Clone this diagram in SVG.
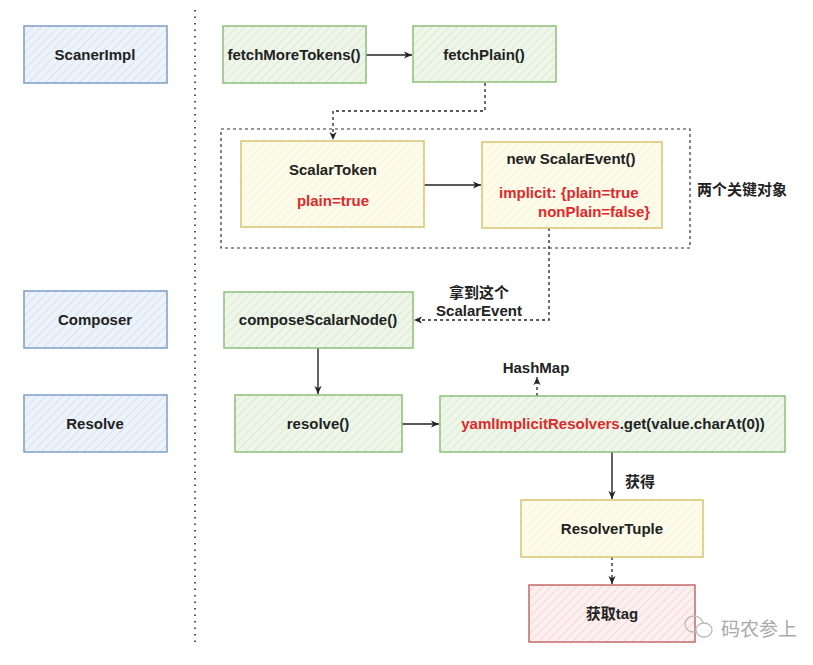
<svg xmlns="http://www.w3.org/2000/svg" width="813" height="665" viewBox="0 0 813 665">
<defs>
<pattern id="hb" width="6" height="6" patternUnits="userSpaceOnUse" patternTransform="rotate(45)"><rect width="6" height="6" fill="#edf3fb"/><line x1="0" y1="0" x2="0" y2="6" stroke="#c9d7ea" stroke-width="1.2"/></pattern>
<pattern id="hg" width="6" height="6" patternUnits="userSpaceOnUse" patternTransform="rotate(45)"><rect width="6" height="6" fill="#eef6ea"/><line x1="0" y1="0" x2="0" y2="6" stroke="#cde2c3" stroke-width="1.2"/></pattern>
<pattern id="hy" width="6" height="6" patternUnits="userSpaceOnUse" patternTransform="rotate(45)"><rect width="6" height="6" fill="#fdfbea"/><line x1="0" y1="0" x2="0" y2="6" stroke="#f6efd2" stroke-width="1.2"/></pattern>
<pattern id="hr" width="6" height="6" patternUnits="userSpaceOnUse" patternTransform="rotate(45)"><rect width="6" height="6" fill="#fbefef"/><line x1="0" y1="0" x2="0" y2="6" stroke="#efc9c9" stroke-width="1.2"/></pattern>
<marker id="ah" viewBox="0 0 10 10" refX="9" refY="5" markerWidth="9" markerHeight="9" markerUnits="userSpaceOnUse" orient="auto"><path d="M0,1 L9,5 L0,9 L2.5,5 z" fill="#222"/></marker>
</defs>
<style>
.blue{fill:url(#hb);stroke:#7d9cc8;stroke-width:1.5}
.green{fill:url(#hg);stroke:#8fbf7a;stroke-width:1.5}
.yellow{fill:url(#hy);stroke:#d8c46e;stroke-width:1.5}
.red{fill:url(#hr);stroke:#c46a6a;stroke-width:1.5}
text{font-family:"Liberation Sans","Noto Sans CJK SC",sans-serif;font-size:15px;font-weight:bold;fill:#222}
.c{text-anchor:middle}
.rd{fill:#e0282a}
.ln{fill:none;stroke:#222;stroke-width:1.4}
.dl{fill:none;stroke:#222;stroke-width:1.3;stroke-dasharray:3 3}
</style>
<rect width="813" height="665" fill="#fff"/>
<line x1="195" y1="10" x2="195" y2="642" stroke="#555" stroke-width="2" stroke-dasharray="1.5 5"/>
<rect x="221" y="129" width="469" height="119" fill="none" stroke="#333" stroke-width="1.2" stroke-dasharray="3 3"/>
<text x="697" y="195">两个关键对象</text>
<g id="connectors">
<line class="ln" x1="366" y1="55" x2="412" y2="55" marker-end="url(#ah)"/>
<polyline class="dl" points="485,83 485,111 333,111 333,140" marker-end="url(#ah)"/>
<line class="ln" x1="424" y1="185" x2="481" y2="185" marker-end="url(#ah)"/>
<polyline class="dl" points="549,228 549,320 414,320" marker-end="url(#ah)"/>
<line class="ln" x1="318" y1="348" x2="318" y2="394" marker-end="url(#ah)"/>
<line class="ln" x1="402" y1="424" x2="439" y2="424" marker-end="url(#ah)"/>
<line class="dl" x1="537" y1="408" x2="537" y2="377" marker-end="url(#ah)"/>
<line class="ln" x1="612" y1="452" x2="612" y2="499" marker-end="url(#ah)"/>
<line class="dl" x1="612" y1="557" x2="612" y2="584" marker-end="url(#ah)"/>
<text class="c" x="479" y="298">拿到这个</text>
<text class="c" x="479" y="316">ScalarEvent</text>
<text class="c" x="536" y="373">HashMap</text>
<text x="625" y="487">获得</text>
</g>
<g id="scanerimpl"><rect class="blue" x="24" y="26" width="143" height="57"/><text class="c" x="95" y="60">ScanerImpl</text></g>
<g id="composer"><rect class="blue" x="24" y="291" width="143" height="57"/><text class="c" x="95" y="325">Composer</text></g>
<g id="resolve-lane"><rect class="blue" x="24" y="395" width="143" height="57"/><text class="c" x="95" y="429">Resolve</text></g>
<g id="fetchmoretokens"><rect class="green" x="223" y="26" width="143" height="57"/><text class="c" x="294" y="60">fetchMoreTokens()</text></g>
<g id="fetchplain"><rect class="green" x="413" y="26" width="143" height="56"/><text class="c" x="484" y="60">fetchPlain()</text></g>
<g id="scalartoken"><rect class="yellow" x="241" y="141" width="183" height="86"/><text class="c" x="333" y="175">ScalarToken</text><text class="c rd" x="333" y="206">plain=true</text></g>
<g id="scalarevent"><rect class="yellow" x="482" y="142" width="180" height="86"/><text class="c" x="571" y="164">new ScalarEvent()</text><text class="rd" x="499" y="198">implicit: {plain=true</text><text class="rd" x="538" y="217">nonPlain=false}</text></g>
<g id="composescalarnode"><rect class="green" x="224" y="292" width="189" height="56"/><text class="c" x="318" y="325">composeScalarNode()</text></g>
<g id="resolve"><rect class="green" x="235" y="395" width="167" height="57"/><text class="c" x="318" y="429">resolve()</text></g>
<g id="yaml"><rect class="green" x="440" y="396" width="345" height="56"/><text class="c" x="613" y="429"><tspan class="rd">yamlImplicitResolvers</tspan>.get(value.charAt(0))</text></g>
<g id="resolvertuple"><rect class="yellow" x="521" y="500" width="182" height="57"/><text class="c" x="612" y="534">ResolverTuple</text></g>
<g id="gettag"><rect class="red" x="529" y="585" width="166" height="57"/><text class="c" x="612" y="619">获取tag</text></g>
<g id="watermark">
<ellipse cx="694" cy="624" rx="9" ry="8" fill="none" stroke="#bbb" stroke-width="1.3"/>
<ellipse cx="704" cy="630" rx="8" ry="7" fill="#fff" stroke="#bbb" stroke-width="1.3"/>
<text x="721" y="636" style="font-size:19px;font-weight:normal;fill:#aaa">码农参上</text>
</g>
</svg>
